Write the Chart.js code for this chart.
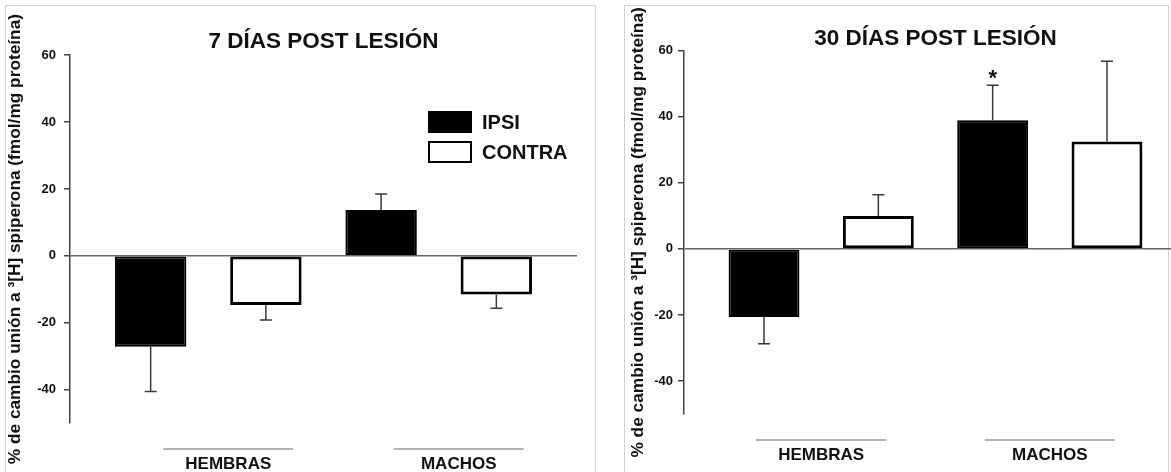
<!DOCTYPE html>
<html><head><meta charset="utf-8">
<script src="https://cdn.jsdelivr.net/npm/chart.js@4.4.1/dist/chart.umd.min.js"></script>
<style>
html,body{margin:0;padding:0;background:#fff;}
body{width:1171px;height:472px;overflow:hidden;position:relative;font-family:"Liberation Sans",Arial,sans-serif;}
.panel{position:absolute;border:1px solid #d0d0d0;}
canvas{position:absolute;top:0;}
.legend{position:absolute;left:428px;top:107px;}
.li{display:flex;align-items:center;height:30px;font-weight:bold;font-size:20px;color:#111;}
.sw{width:44px;height:22px;box-sizing:border-box;border:2.5px solid #000;margin-right:10px;}
</style></head><body>
<div class="panel" style="left:5px;top:5px;width:589px;height:480px"></div>
<div class="panel" style="left:624px;top:5px;width:543px;height:480px"></div>
<canvas id="c1" width="600" height="480" style="left:0"></canvas>
<canvas id="c2" width="586" height="480" style="left:614px"></canvas>
<div class="legend" id="lg"></div>
<script>
const categories = ['HEMBRAS', 'MACHOS'];
const seriesNames = ['IPSI', 'CONTRA'];
const seriesFill = ['#000000', '#ffffff'];
const yTicks = [-40, -20, 0, 20, 40, 60];
const titles = ['7 DÍAS POST LESIÓN', '30 DÍAS POST LESIÓN'];
const yTitle = '% de cambio unión a ³[H] spiperona (fmol/mg proteína)';
const ipsi7 = [-27.2, 13.7];
const ipsi7Err = [13.4, 4.8];
const contra7 = [-14.7, -11.6];
const contra7Err = [4.5, 4.1];
const ipsi30 = [-20.6, 39.0];
const ipsi30Err = [8.1, 10.6];
const contra30 = [10.0, 32.5];
const contra30Err = [6.4, 24.3];
const ipsi30Marks = ['', '*'];
const FAM = '"Liberation Sans", Arial, sans-serif';

const errPlugin = {
  id: 'errbars',
  afterDatasetsDraw(chart) {
    const ctx = chart.ctx, ys = chart.scales.y;
    chart.data.datasets.forEach((ds, i) => {
      const meta = chart.getDatasetMeta(i);
      meta.data.forEach((el, j) => {
        const v = ds.data[j].y, e = ds.errors[j];
        const end = v >= 0 ? v + e : v - e;
        const y0 = el.y, y1 = ys.getPixelForValue(end);
        ctx.save();
        ctx.strokeStyle = '#3a3a3a'; ctx.lineWidth = 1.5;
        ctx.beginPath();
        ctx.moveTo(el.x, y0); ctx.lineTo(el.x, y1);
        ctx.moveTo(el.x - 6, y1); ctx.lineTo(el.x + 6, y1);
        ctx.stroke();
        if (ds.marks && ds.marks[j]) {
          ctx.fillStyle = '#111';
          ctx.font = 'bold 22px ' + FAM;
          ctx.textAlign = 'center'; ctx.textBaseline = 'alphabetic';
          ctx.fillText(ds.marks[j], el.x, y1);
        }
        ctx.restore();
      });
    });
  }
};
const catLinePlugin = {
  id: 'catlines',
  afterDraw(chart, args, opts) {
    const xs = chart.scales.x, ctx = chart.ctx;
    const y = chart.chartArea.bottom + opts.gap;
    ctx.save(); ctx.strokeStyle = '#666'; ctx.lineWidth = 1;
    xs.ticks.forEach(t => {
      const x = xs.getPixelForValue(t.value) + opts.shift;
      ctx.beginPath(); ctx.moveTo(x - 65, y); ctx.lineTo(x + 65, y); ctx.stroke();
    });
    ctx.restore();
  }
};

function makeChart(id, title, ipsi, ipsiErr, contra, contraErr, marks, p) {
  return new Chart(document.getElementById(id), {
    type: 'bar',
    data: {
      datasets: [
        { label: seriesNames[0], data: categories.map((c, i) => ({ x: i + 1, y: ipsi[i] })),
          backgroundColor: seriesFill[0], borderColor: '#000', borderWidth: 2, borderSkipped: false,
          errors: ipsiErr, marks: marks },
        { label: seriesNames[1], data: categories.map((c, i) => ({ x: i + 1, y: contra[i] })),
          backgroundColor: seriesFill[1], borderColor: '#000', borderWidth: 3, borderSkipped: false,
          errors: contraErr }
      ]
    },
    options: {
      responsive: false, animation: false,
      layout: { padding: { left: 0, top: 0, right: p.padR, bottom: 0 } },
      datasets: { bar: { categoryPercentage: 1, barPercentage: 0.62 } },
      plugins: {
        legend: { display: false }, tooltip: { enabled: false },
        title: { display: true, text: title, fullSize: false, color: '#111',
          font: { family: FAM, size: 22.5, weight: 'bold', lineHeight: 1 },
          padding: { top: p.tTop, bottom: p.tBot } },
        catlines: { gap: 26, shift: p.shift }
      },
      scales: {
        x: { type: 'linear', min: 0.4, max: 2.6, offset: false,
          grid: { display: false, drawTicks: false }, border: { display: false },
          afterBuildTicks: s => { s.ticks = categories.map((c, i) => ({ value: i + 1 })); },
          afterFit: s => { s.height = p.xH; },
          ticks: { callback: v => categories[v - 1] ?? '', font: { family: FAM, size: 17, weight: 'bold' },
            color: '#111', padding: 31, labelOffset: p.shift, maxRotation: 0, autoSkip: false } },
        y: { min: -50, max: 60,
          afterBuildTicks: s => { s.ticks = yTicks.map(v => ({ value: v })); },
          afterFit: s => { s.width = 70; },
          grid: { color: c => (c.tick && c.tick.value === 0) ? '#666' : 'rgba(0,0,0,0)', lineWidth: 1.5,
            tickColor: '#444', tickLength: 6, drawTicks: true },
          border: { color: '#444', width: 1.5 },
          ticks: { font: { family: FAM, size: 13, weight: 'bold' }, color: '#111', padding: p.tPad },
          title: { display: true, text: yTitle, color: '#111', font: { family: FAM, size: 17.3, weight: 'bold' },
            padding: { top: p.ytPad, bottom: 0 } } }
      }
    },
    plugins: [errPlugin, catLinePlugin]
  });
}

const ch1 = makeChart('c1', titles[0], ipsi7, ipsi7Err, contra7, contra7Err, null,
  { padR: 23, tTop: 30.5, tBot: 2.2, xH: 57, shift: 20, tPad: 8, ytPad: 5 });
const ch2 = makeChart('c2', titles[1], ipsi30, ipsi30Err, contra30, contra30Err, ipsi30Marks,
  { padR: 13, tTop: 28, tBot: 0.3, xH: 66, shift: 0, tPad: 5, ytPad: 13.6 });

const lg = document.getElementById('lg');
seriesNames.forEach((n, i) => {
  const row = document.createElement('div'); row.className = 'li';
  const sw = document.createElement('span'); sw.className = 'sw'; sw.style.background = seriesFill[i];
  const tx = document.createElement('span'); tx.textContent = n;
  row.appendChild(sw); row.appendChild(tx); lg.appendChild(row);
});
</script>
</body></html>
